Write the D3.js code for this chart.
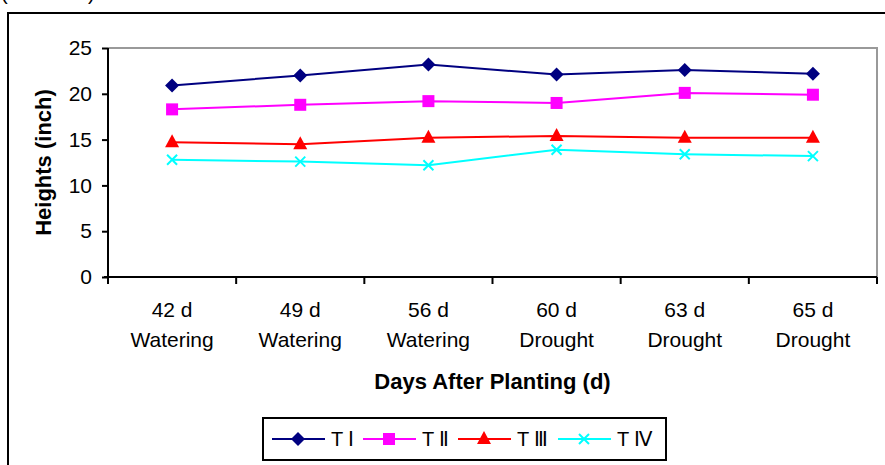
<!DOCTYPE html>
<html>
<head>
<meta charset="utf-8">
<script src="https://cdn.jsdelivr.net/npm/d3@7"></script>
<style>
  body { margin: 0; background: #fff; }
  svg { display: block; font-family: "Liberation Sans", Arial, sans-serif; }
</style>
</head>
<body>
<div id="chart"></div>
<script>
// Categorias (dias após o plantio)
const days = ['42 d', '49 d', '56 d', '60 d', '63 d', '65 d'];
const phases = ['Watering', 'Watering', 'Watering', 'Drought', 'Drought', 'Drought'];

// Séries
const seriesNames = ['T Ⅰ', 'T Ⅱ', 'T Ⅲ', 'T Ⅳ'];
const t1 = [20.9, 22.0, 23.2, 22.1, 22.6, 22.2];
const t2 = [18.3, 18.8, 19.2, 19.0, 20.1, 19.9];
const t3 = [14.7, 14.5, 15.2, 15.4, 15.2, 15.2];
const t4 = [12.8, 12.6, 12.2, 13.9, 13.4, 13.2];

const yTicks = [0, 5, 10, 15, 20, 25];

const W = 885, H = 465;
const margin = { top: 48, right: 8, bottom: 188, left: 108 };
const width = 877 - margin.left;
const height = 277 - margin.top;

const svg = d3.select('#chart').append('svg')
  .attr('width', W)
  .attr('height', H);

// Borda externa do gráfico (cortada na direita/baixo)
svg.append('rect')
  .attr('x', 8).attr('y', 13)
  .attr('width', 900).attr('height', 500)
  .attr('fill', 'none')
  .attr('stroke', '#000')
  .attr('stroke-width', 2);

// restos do título cortado no topo
svg.append('text').attr('x', 1).attr('y', 0).attr('font-size', 20).text('(');
svg.append('text').attr('x', 88).attr('y', 0).attr('font-size', 20).text(')');

const g = svg.append('g')
  .attr('transform', `translate(${margin.left},${margin.top})`);

// Escalas
const x = d3.scaleBand().domain(days).range([0, width]);
const y = d3.scaleLinear().domain([0, 25]).range([height, 0]);

// Borda da área do gráfico (cinza, topo e direita)
g.append('path')
  .attr('d', `M0,${y(25)}H${width}V${height}`)
  .attr('fill', 'none')
  .attr('stroke', '#999')
  .attr('stroke-width', 2);

// Eixo Y
const yAxis = g.append('g')
  .call(d3.axisLeft(y).tickValues(yTicks).tickSize(6).tickPadding(10));
yAxis.select('.domain').attr('stroke', '#000').attr('stroke-width', 2)
  .attr('d', `M0,${height + 4}V${y(25)}`);
yAxis.selectAll('.tick line').attr('stroke-width', 2);
yAxis.selectAll('.tick text')
  .attr('font-size', 21)
  .attr('font-family', '"Liberation Sans", Arial, sans-serif')
  .attr('fill', '#000');

// Eixo X
const xAxis = g.append('g')
  .attr('transform', `translate(0,${height})`);
xAxis.append('path')
  .attr('d', `M-4,0H${width}`)
  .attr('stroke', '#000')
  .attr('stroke-width', 2);
d3.range(days.length + 1).forEach(i => {
  const xp = i < days.length ? x(days[i]) : width;
  xAxis.append('line')
    .attr('x1', xp).attr('x2', xp)
    .attr('y1', 0).attr('y2', 7)
    .attr('stroke', '#000')
    .attr('stroke-width', 2);
});
days.forEach((d, i) => {
  const cx = x(d) + x.bandwidth() / 2;
  const t = xAxis.append('text')
    .attr('x', cx)
    .attr('text-anchor', 'middle')
    .attr('font-size', 21)
    .attr('fill', '#000');
  t.append('tspan').attr('x', cx).attr('y', 40).text(d);
  t.append('tspan').attr('x', cx).attr('y', 70).text(phases[i]);
});

// Títulos dos eixos
svg.append('text')
  .attr('x', margin.left + width / 2)
  .attr('y', 389)
  .attr('text-anchor', 'middle')
  .attr('font-size', 22)
  .attr('font-weight', 'bold')
  .text('Days After Planting (d)');

svg.append('text')
  .attr('transform', `translate(51,${margin.top + height / 2}) rotate(-90)`)
  .attr('text-anchor', 'middle')
  .attr('font-size', 22)
  .attr('font-weight', 'bold')
  .text('Heights (inch)');

// Séries e marcadores
const colors = ['#000080', '#FF00FF', '#FF0000', '#00FFFF'];
const shapes = ['diamond', 'square', 'triangle', 'cross'];
const allSeries = [t1, t2, t3, t4];

function drawMarker(sel, shape, color, cx, cy) {
  if (shape === 'diamond') {
    sel.append('path')
      .attr('d', `M${cx},${cy - 7}L${cx + 7},${cy}L${cx},${cy + 7}L${cx - 7},${cy}Z`)
      .attr('fill', color);
  } else if (shape === 'square') {
    sel.append('rect')
      .attr('x', cx - 6).attr('y', cy - 6)
      .attr('width', 12).attr('height', 12)
      .attr('fill', color);
  } else if (shape === 'triangle') {
    sel.append('path')
      .attr('d', `M${cx},${cy - 8}L${cx + 7},${cy + 5}L${cx - 7},${cy + 5}Z`)
      .attr('fill', color);
  } else {
    sel.append('path')
      .attr('d', `M${cx - 5},${cy - 5}L${cx + 5},${cy + 5}M${cx - 5},${cy + 5}L${cx + 5},${cy - 5}`)
      .attr('stroke', color)
      .attr('stroke-width', 2);
  }
}

const line = d3.line()
  .x((d, i) => x(days[i]) + x.bandwidth() / 2)
  .y(d => y(d));

allSeries.forEach((s, k) => {
  g.append('path')
    .datum(s)
    .attr('d', line)
    .attr('fill', 'none')
    .attr('stroke', colors[k])
    .attr('stroke-width', 2);
  s.forEach((v, i) => {
    drawMarker(g, shapes[k], colors[k], x(days[i]) + x.bandwidth() / 2, y(v));
  });
});

// Legenda
const legend = svg.append('g');
legend.append('rect')
  .attr('x', 263).attr('y', 418)
  .attr('width', 403).attr('height', 42)
  .attr('fill', '#fff')
  .attr('stroke', '#000')
  .attr('stroke-width', 2);

const legendX = [272, 363, 458, 558];
seriesNames.forEach((name, k) => {
  const lx = legendX[k];
  const ly = 439;
  legend.append('line')
    .attr('x1', lx).attr('x2', lx + 53)
    .attr('y1', ly).attr('y2', ly)
    .attr('stroke', colors[k])
    .attr('stroke-width', 2);
  drawMarker(legend, shapes[k], colors[k], lx + 26, ly);
  legend.append('text')
    .attr('x', lx + 59)
    .attr('y', ly + 7)
    .attr('font-size', 20)
    .attr('fill', '#000')
    .text(name);
});
</script>
</body>
</html>
